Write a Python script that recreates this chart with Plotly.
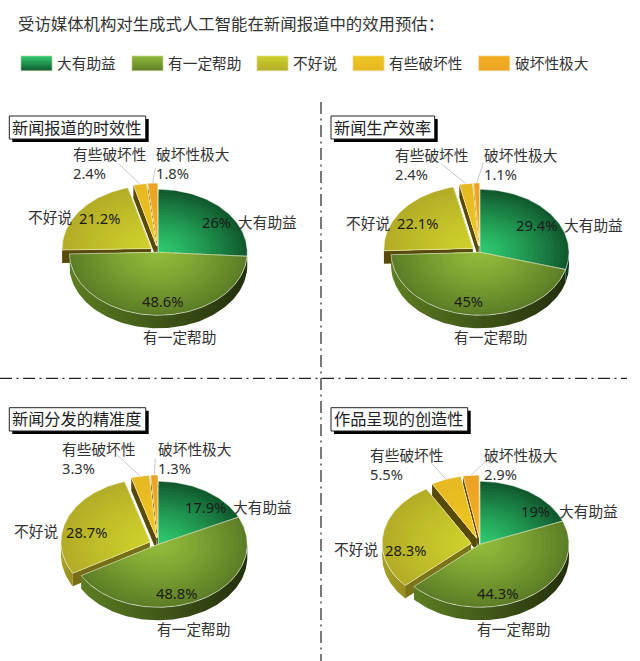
import math
import plotly.graph_objects as go

# values, one list per pie, order as in the legend
categories = ["大有助益", "有一定帮助", "不好说", "有些破坏性", "破坏性极大"]
timeliness = [26, 48.6, 21.2, 2.4, 1.8]
efficiency = [29.4, 45, 22.1, 2.4, 1.1]
accuracy = [17.9, 48.8, 28.7, 3.3, 1.3]
creativity = [19, 44.3, 28.3, 5.5, 2.9]
titles = ["新闻报道的时效性", "新闻生产效率", "新闻分发的精准度", "作品呈现的创造性"]
main_title = "受访媒体机构对生成式人工智能在新闻报道中的效用预估："
pies = [timeliness, efficiency, accuracy, creativity]

FONT = "Noto Sans, Noto Sans CJK SC"
TEXT = "#333333"
RX, RY, DEPTH = 89, 63, 13
EXPLODE = 9
RINGS = 20
centers = [(158.3, 252.3), (480, 252.3), (158.3, 544.3), (480, 544.3)]

bright = ["#2fcc70", "#93bb3a", "#cfd02b", "#eec521", "#f2ae20"]
dark = ["#115a2e", "#5d7e27", "#b3ad27", "#e6b822", "#eaa324"]
rim_left = ["#0f4a27", "#5c7e22", "#aaa226", "#5b4c0a", "#5b4c0a"]
rim_right = ["#0b3019", "#232f0d", "#958e20", "#5b4c0a", "#5b4c0a"]
draw_order = [4, 3, 0, 2, 1]
exploded = [False, False, True, True, True]

# layout of the texts, in page pixels: (x of left edge, y of middle)
cat_pos = [
    [(238.3, 222), (142.7, 337), (27.7, 217), (73, 154.7), (156, 154)],
    [(564.3, 225), (454.3, 337), (346, 222.7), (395.3, 155.7), (483.7, 155)],
    [(232.7, 506.7), (156.7, 629), (14, 531), (62.3, 449.3), (158, 449.3)],
    [(559, 510.7), (476.7, 629), (334, 549.3), (370.3, 455.7), (483.7, 455.7)],
]
val_pos = [
    [(202, 222), (142.3, 300.7), (79.3, 218), (73, 173), (156, 172)],
    [(516, 225), (454, 300.5), (397, 223), (395.3, 174), (483.7, 174)],
    [(185, 506.7), (156, 593.3), (65.7, 531.7), (62.3, 467.7), (158, 467.7)],
    [(521.3, 510.7), (476.7, 593.3), (385.3, 550), (370.3, 474), (483.7, 474)],
]
leader_from = [
    [(118.3, 163.3), (155.3, 168.3)],
    [(440.7, 163.3), (483.3, 163.3)],
    [(117.3, 455), (155.3, 458.3)],
    [(431.7, 463.3), (485, 461.7)],
]
title_box = [(9.3, 145.7, 116, 139), (331, 434.7, 116, 139),
             (9.3, 145.7, 407.7, 431), (331, 467.7, 407.7, 431)]
legend_x = [(20.7, 52.3, 57.3), (131.7, 163.3, 167.7), (256.7, 288.3, 293.3),
            (352.7, 384.3, 389), (478.3, 510, 515)]


def mix(c1, c2, t):
    a = [int(c1[i:i + 2], 16) for i in (1, 3, 5)]
    b = [int(c2[i:i + 2], 16) for i in (1, 3, 5)]
    return "rgb(%d,%d,%d)" % tuple(round(a[i] + (b[i] - a[i]) * t) for i in range(3))


def point(cx, cy, deg, scale=1.0):
    rad = math.radians(deg)
    return cx + math.sin(rad) * RX * scale, cy - math.cos(rad) * RY * scale


def arc(cx, cy, a0, a1, scale=1.0):
    n = max(2, int(abs(a1 - a0) / 1.5) + 1)
    return [point(cx, cy, a0 + (a1 - a0) * i / n, scale) for i in range(n + 1)]


def add_poly(pts, **kw):
    fig.add_trace(go.Scatter(
        x=[p[0] for p in pts], y=[p[1] for p in pts], mode="lines", fill="toself",
        hoverinfo="skip", showlegend=False, **kw))


fig = go.Figure()
annotations = []
shapes = []


def add_text(x, y, s, size=14.7, color=TEXT):
    # annotations keep a small pad round the text, hence the -2
    annotations.append(dict(x=x - 2, y=y, text=s, xref="x", yref="y", xanchor="left", yanchor="middle",
                            align="left", showarrow=False,
                            font=dict(family=FONT, size=size, color=color)))


for p, values in enumerate(pies):
    cx0, cy0 = centers[p]
    total = sum(values)
    starts = []
    acc = 0
    for v in values:
        starts.append(acc)
        acc += v

    for s in draw_order:
        a0 = starts[s] / total * 360
        a1 = (starts[s] + values[s]) / total * 360
        mid = (a0 + a1) / 2
        cx, cy = cx0, cy0
        if exploded[s]:
            cx, cy = point(cx0, cy0, mid, EXPLODE / RX)

        # radial wall, only for pulled out slices that face the viewer
        if exploded[s] and math.cos(math.radians(a0 - 90)) < 0:
            t = min(1, max(0, (a0 - 235) / 30))
            col = mix("#7c7418", "#574a0a", t)
            rim = point(cx, cy, a0)
            add_poly([(cx, cy), rim, (rim[0], rim[1] + DEPTH), (cx, cy + DEPTH)],
                     line=dict(width=0), fillcolor=col)

        # outer wall
        w0, w1 = max(a0, 90), min(a1, 270)
        if w1 > w0:
            top = arc(cx, cy, w0, w1)
            bottom = [(x, y + DEPTH) for x, y in reversed(top)]
            add_poly(top + bottom, line=dict(width=0),
                     fillgradient=dict(type="horizontal",
                                       colorscale=[[0, rim_left[s]], [1, rim_right[s]]]))

        # top face, nested wedges give the radial shading
        for r in range(RINGS, 0, -1):
            t = r / RINGS
            pts = [(cx, cy)] + arc(cx, cy, a0, a1, t)
            add_poly(pts + [pts[0]], line=dict(width=0), fillcolor=mix(bright[s], dark[s], t ** 1.25))
        pts = [(cx, cy)] + arc(cx, cy, a0, a1) + [(cx, cy)]
        fig.add_trace(go.Scatter(
            x=[q[0] for q in pts], y=[q[1] for q in pts], mode="lines",
            line=dict(color="rgba(255,255,255,0.5)", width=1),
            hoverinfo="skip", showlegend=False))

    # leader lines to the two small slices
    for k, s in enumerate([3, 4]):
        a0 = starts[s] / total * 360
        a1 = (starts[s] + values[s]) / total * 360
        mid = (a0 + a1) / 2
        cx, cy = point(cx0, cy0, mid, EXPLODE / RX)
        end = point(cx, cy, mid)
        fig.add_trace(go.Scatter(
            x=[leader_from[p][k][0], end[0]], y=[leader_from[p][k][1], end[1]], mode="lines",
            line=dict(color="#c9c9c9", width=1), hoverinfo="skip", showlegend=False))

    for s, cat in enumerate(categories):
        vx, vy = val_pos[p][s]
        if s >= 3:
            # small slices carry name and value in one two-line label
            add_text(cat_pos[p][s][0], (cat_pos[p][s][1] + vy) / 2, f"{cat}<br>{values[s]}%")
        else:
            add_text(cat_pos[p][s][0], cat_pos[p][s][1], cat)
            add_text(vx, vy, f"{values[s]}%", color="#1c1c1c")

    # boxed subtitle with hard shadow
    x0, x1, y0, y1 = title_box[p]
    shapes.append(dict(type="rect", x0=x0 + 3, x1=x1 + 3, y0=y0 + 3, y1=y1 + 3, xref="x", yref="y",
                       fillcolor="black", line=dict(width=0)))
    shapes.append(dict(type="rect", x0=x0, x1=x1, y0=y0, y1=y1, xref="x", yref="y",
                       fillcolor="white", line=dict(color="#222222", width=1)))
    add_text(x0 + 3, (y0 + y1) / 2, titles[p], size=16.2, color="#222222")

# legend swatches
for s, cat in enumerate(categories):
    x0, x1, tx = legend_x[s]
    add_poly([(x0, 55.7), (x1, 55.7), (x1, 71), (x0, 71), (x0, 55.7)],
             line=dict(color="#f3f0d8", width=1),
             fillgradient=dict(type="vertical", colorscale=[[0, dark[s]], [1, bright[s]]]))
    add_text(tx, 63, cat)

add_text(18, 23.3, main_title, size=16.4)

# separators
DASH = "12px,4.5px,2px,4.5px"
shapes.append(dict(type="line", x0=0, x1=627, y0=378.3, y1=378.3, xref="x", yref="y",
                   line=dict(color="#222222", width=1.2, dash=DASH)))
shapes.append(dict(type="line", x0=321, x1=321, y0=102, y1=661, xref="x", yref="y",
                   line=dict(color="#222222", width=1.2, dash=DASH)))

fig.update_layout(
    width=640, height=661, margin=dict(l=0, r=0, t=0, b=0),
    paper_bgcolor="white", plot_bgcolor="white", showlegend=False,
    xaxis=dict(range=[0, 640], visible=False, fixedrange=True),
    yaxis=dict(range=[661, 0], visible=False, fixedrange=True),
    annotations=annotations, shapes=shapes,
)
fig.write_html("out.html", config=dict(displayModeBar=False),
               post_script="document.body.style.margin='0';")
